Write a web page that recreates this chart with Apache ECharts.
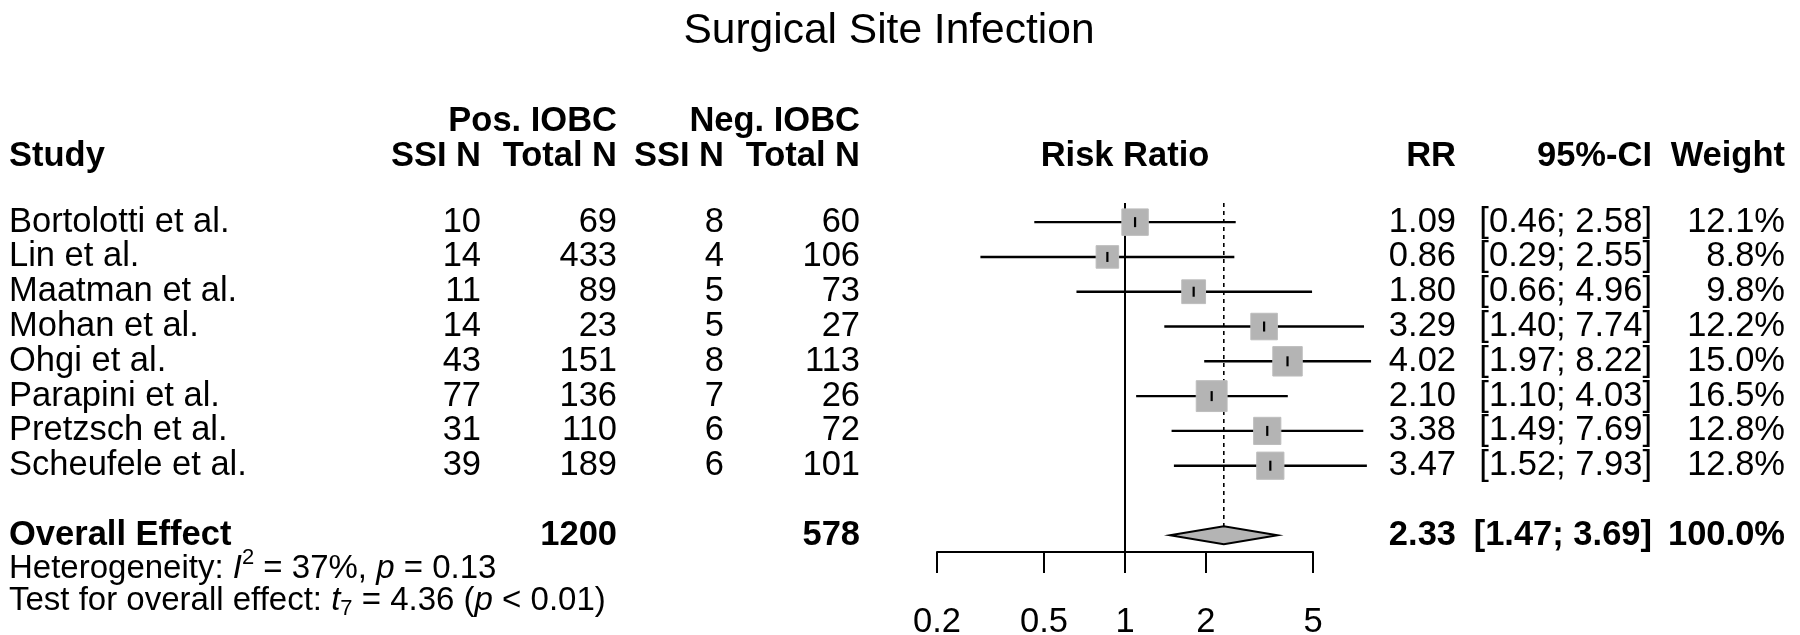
<!DOCTYPE html>
<html><head><meta charset="utf-8">
<script src="https://cdn.jsdelivr.net/npm/echarts@6/dist/echarts.min.js"></script>
<style>html,body{margin:0;padding:0;background:#fff}#c{width:1800px;height:635px}</style>
</head><body><div id="c"></div>
<script>
// ---- data ----
const studies = ['Bortolotti et al.', 'Lin et al.', 'Maatman et al.', 'Mohan et al.', 'Ohgi et al.', 'Parapini et al.', 'Pretzsch et al.', 'Scheufele et al.'];
const posSSI = [10, 14, 11, 14, 43, 77, 31, 39];
const posTotal = [69, 433, 89, 23, 151, 136, 110, 189];
const negSSI = [8, 4, 5, 5, 8, 7, 6, 6];
const negTotal = [60, 106, 73, 27, 113, 26, 72, 101];
const rr = [1.09, 0.86, 1.80, 3.29, 4.02, 2.10, 3.38, 3.47];
const ciLow = [0.46, 0.29, 0.66, 1.40, 1.97, 1.10, 1.49, 1.52];
const ciHigh = [2.58, 2.55, 4.96, 7.74, 8.22, 4.03, 7.69, 7.93];
const weight = [12.1, 8.8, 9.8, 12.2, 15.0, 16.5, 12.8, 12.8];
const overallLabel = 'Overall Effect';
const overallRR = 2.33;
const overallLow = 1.47;
const overallHigh = 3.69;
const overallWeight = 100.0;
const overallPosTotal = 1200;
const overallNegTotal = 578;
const tickValues = [0.2, 0.5, 1, 2, 5];
const heterogeneityText = 'Heterogeneity: {it|I}{sup|2} = 37%, {it|p} = 0.13';
const overallTestText = 'Test for overall effect: {it|t}{sub|7} = 4.36 ({it|p} < 0.01)';

// ---- layout ----
const FONT = '"Liberation Sans", Arial, Helvetica, sans-serif';
const FS = 34.5;
const FS_NOTE = 33;
const studyRows = studies.map((_, i) => i);
const overallRow = 9;
const Y_MIN = -0.55, Y_MAX = 9.48;

const chart = echarts.init(document.getElementById('c'));

function textColumn(values, rows, bolds, x, align) {
  return {
    type: 'custom', coordinateSystem: 'cartesian2d', clip: false, silent: true, z: 5,
    data: rows.map(r => [1, r]),
    renderItem: (params, api) => {
      const y = api.coord([1, api.value(1)])[1];
      return {
        type: 'text', x: x, y: y,
        style: {
          text: String(values[params.dataIndex]), x: 0, y: 0,
          align: align, verticalAlign: 'middle',
          fontFamily: FONT, fontSize: FS,
          fontWeight: bolds[params.dataIndex] ? 'bold' : 'normal',
          fill: '#000'
        }
      };
    }
  };
}

const allRows = studyRows.concat([overallRow]);
const bolds = studies.map(() => false).concat([true]);

const series = [
  // reference line at RR = 1
  {
    type: 'custom', coordinateSystem: 'cartesian2d', clip: false, silent: true, z: 1,
    data: [[1, Y_MIN]],
    renderItem: (params, api) => {
      const a = api.coord([1, Y_MIN]);
      const b = api.coord([1, Y_MAX]);
      return { type: 'line', shape: { x1: a[0], y1: a[1], x2: b[0], y2: b[1] },
        style: { stroke: '#000', lineWidth: 2 } };
    }
  },
  // dashed line at pooled estimate
  {
    type: 'custom', coordinateSystem: 'cartesian2d', clip: false, silent: true, z: 1,
    data: [[overallRR, Y_MIN]],
    renderItem: (params, api) => {
      const a = api.coord([overallRR, Y_MIN]);
      const b = api.coord([overallRR, overallRow]);
      return { type: 'line', shape: { x1: a[0], y1: a[1], x2: b[0], y2: b[1] - 9 },
        style: { stroke: '#000', lineWidth: 1.6, lineDash: [4, 4] } };
    }
  },
  // CI lines
  {
    type: 'custom', coordinateSystem: 'cartesian2d', clip: false, silent: true, z: 2,
    data: rr.map((v, i) => [v, i]),
    renderItem: (params, api) => {
      const i = params.dataIndex;
      const a = api.coord([ciLow[i], i]);
      const b = api.coord([ciHigh[i], i]);
      return { type: 'line', shape: { x1: a[0], y1: a[1], x2: b[0], y2: b[1] },
        style: { stroke: '#000', lineWidth: 2.4 } };
    }
  },
  // squares (area ~ weight) with estimate tick
  {
    type: 'custom', coordinateSystem: 'cartesian2d', clip: false, silent: true, z: 3,
    data: rr.map((v, i) => [v, i]),
    renderItem: (params, api) => {
      const i = params.dataIndex;
      const c = api.coord([rr[i], i]);
      const s = 7.6 * Math.sqrt(weight[i]);
      return { type: 'group', children: [
        { type: 'rect', shape: { x: c[0] - s / 2, y: c[1] - s / 2, width: s, height: s },
          style: { fill: '#b4b4b4', stroke: '#bdbdbd', lineWidth: 1 } },
        { type: 'line', shape: { x1: c[0], y1: c[1] - 5, x2: c[0], y2: c[1] + 5 },
          style: { stroke: '#000', lineWidth: 2.2 } }
      ] };
    }
  },
  // diamond
  {
    type: 'custom', coordinateSystem: 'cartesian2d', clip: false, silent: true, z: 3,
    data: [[overallRR, overallRow]],
    renderItem: (params, api) => {
      const l = api.coord([overallLow, overallRow]);
      const r = api.coord([overallHigh, overallRow]);
      const c = api.coord([overallRR, overallRow]);
      return { type: 'polygon', shape: { points: [l, [c[0], c[1] - 9], r, [c[0], c[1] + 9]] },
        style: { fill: '#b4b4b4', stroke: '#000', lineWidth: 2 } };
    }
  },
  textColumn(studies.concat([overallLabel]), allRows, bolds, 9, 'left'),
  textColumn(posSSI, studyRows, bolds, 481, 'right'),
  textColumn(posTotal.concat([overallPosTotal]), allRows, bolds, 617, 'right'),
  textColumn(negSSI, studyRows, bolds, 724, 'right'),
  textColumn(negTotal.concat([overallNegTotal]), allRows, bolds, 860, 'right'),
  textColumn(rr.concat([overallRR]).map(v => v.toFixed(2)), allRows, bolds, 1456, 'right'),
  textColumn(ciLow.concat([overallLow]).map((v, i) => '[' + v.toFixed(2) + '; ' + ciHigh.concat([overallHigh])[i].toFixed(2) + ']'), allRows, bolds, 1652, 'right'),
  textColumn(weight.concat([overallWeight]).map(v => v.toFixed(1) + '%'), allRows, bolds, 1785, 'right')
];

function hdr(text, x, y, align, bold) {
  return { type: 'text', x: x, y: y, silent: true,
    style: { text: text, align: align, verticalAlign: 'middle', fontFamily: FONT,
      fontSize: FS, fontWeight: bold ? 'bold' : 'normal', fill: '#000' } };
}

const richStyles = {
  it: { fontStyle: 'italic', fontFamily: FONT, fontSize: FS_NOTE, fill: '#000' },
  sup: { fontFamily: FONT, fontSize: 22, fill: '#000', padding: [0, 0, 22, 0] },
  sub: { fontFamily: FONT, fontSize: 22, fill: '#000', padding: [16, 0, 0, 0] }
};

const option = {
  animation: false,
  backgroundColor: '#fff',
  grid: { left: 937, right: 487, top: 203, bottom: 83, outerBoundsMode: 'none' },
  xAxis: {
    type: 'log', logBase: 10, min: 0.2, max: 5, position: 'bottom',
    axisLine: { show: true, onZero: false, lineStyle: { color: '#000', width: 2 } },
    axisTick: { show: true, customValues: tickValues, length: 21, lineStyle: { color: '#000', width: 2 } },
    axisLabel: { show: true, customValues: tickValues, margin: 53, color: '#000',
      fontFamily: FONT, fontSize: FS, formatter: v => String(+(+v).toFixed(2)) },
    minorTick: { show: false }, splitLine: { show: false }
  },
  yAxis: { type: 'value', inverse: true, min: Y_MIN, max: Y_MAX, show: false },
  graphic: [
    { type: 'text', x: 889, y: 31, silent: true,
      style: { text: 'Surgical Site Infection', align: 'center', verticalAlign: 'middle',
        fontFamily: FONT, fontSize: 42.5, fill: '#000' } },
    hdr('Pos. IOBC', 617, 121, 'right', true),
    hdr('Neg. IOBC', 860, 121, 'right', true),
    hdr('Study', 9, 156, 'left', true),
    hdr('SSI N', 481, 156, 'right', true),
    hdr('Total N', 617, 156, 'right', true),
    hdr('SSI N', 724, 156, 'right', true),
    hdr('Total N', 860, 156, 'right', true),
    hdr('Risk Ratio', 1125, 156, 'center', true),
    hdr('RR', 1456, 156, 'right', true),
    hdr('95%-CI', 1652, 156, 'right', true),
    hdr('Weight', 1785, 156, 'right', true),
    { type: 'text', x: 9, y: 569, silent: true,
      style: { text: heterogeneityText, rich: richStyles, align: 'left', verticalAlign: 'middle',
        fontFamily: FONT, fontSize: FS_NOTE, fill: '#000' } },
    { type: 'text', x: 9, y: 601, silent: true,
      style: { text: overallTestText, rich: richStyles, align: 'left', verticalAlign: 'middle',
        fontFamily: FONT, fontSize: FS_NOTE, fill: '#000' } }
  ],
  series: series
};
chart.setOption(option);
</script></body></html>
